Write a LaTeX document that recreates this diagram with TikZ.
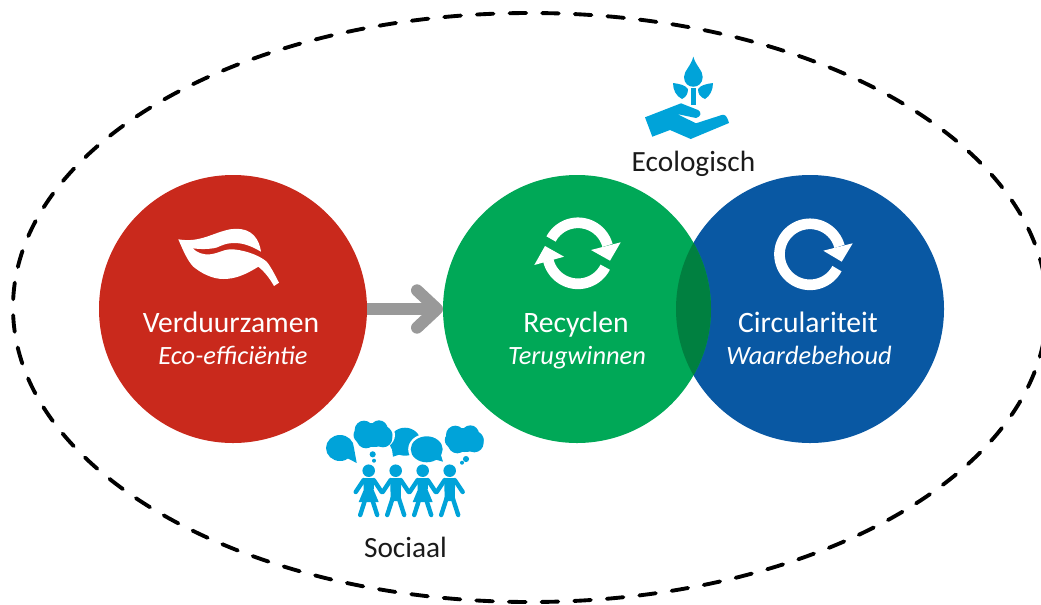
\documentclass[tikz,border=0pt]{standalone}
\usepackage{fontspec}
\setmainfont{Carlito}
\usetikzlibrary{arrows.meta}
\definecolor{cred}{HTML}{C9291C}
\definecolor{cgreen}{HTML}{00A857}
\definecolor{cblue}{HTML}{0958A3}
\definecolor{cdark}{HTML}{008040}
\definecolor{ccyan}{HTML}{00A3D9}
\definecolor{cgray}{HTML}{999999}
\definecolor{ctext}{HTML}{1A1A1A}
\tikzset{
  disc/.style={circle,minimum size=201pt,inner sep=0pt,outer sep=0pt,fill=#1},
  title/.style={text=white,font=\fontsize{22.2}{26}\selectfont,inner sep=0pt,anchor=base},
  subtitle/.style={text=white,font=\fontsize{19.8}{24}\selectfont\itshape,inner sep=0pt,anchor=base},
  pillar/.style={text=ctext,font=\fontsize{22}{26}\selectfont,inner sep=0pt,anchor=base},
  icon/.style={fill=ccyan,draw=none},
  ring/.style={draw=white,line width=8pt},
  limb/.style={draw=ccyan,line width=3.3pt,line cap=round},
}
\begin{document}
\begin{tikzpicture}[x=0.75pt,y=-0.75pt]
\useasboundingbox (0,0) rectangle (1041,604);
\draw[black,line width=2.9pt,line cap=round,dash pattern=on 12.5pt off 12pt] (530,307.5) ellipse [x radius=517pt*0.75,y radius=294.5pt*0.75];
\node[disc=cblue] (blue) at (810,309) {};
\node[disc=cgreen] (green) at (577,309) {};
\node[disc=cred] (red) at (233,309) {};
\begin{scope}
  \clip (577,309) circle [radius=100.5pt];
  \fill[cdark] (810,309) circle [radius=100.5pt];
\end{scope}
\draw[cgray,line width=9pt,-{Straight Barb[length=15pt,width=28pt,round]}] (red.east |- 0,309) -- (green.west);
% leaf
\fill[white] (178.3,239.3) .. controls (200,243) and (212,233) .. (230,229.3) .. controls (245,227) and (258,232) .. (261,251.7)
  .. controls (250,245) and (240,242) .. (230,243.3) .. controls (222,244) and (218,248) .. (213.3,248.3) .. controls (205,249.5) and (198,249) .. (192.7,248.3)
  .. controls (197,253) and (204,255) .. (210,254.3) .. controls (218,253.5) and (222,250) .. (230,249.3) .. controls (240,249) and (258,254) .. (266.7,261.7)
  .. controls (271,267) and (275,275) .. (279,282.7) -- (274,286) .. controls (270,279) and (265,272) .. (258.3,266.7)
  .. controls (245,275) and (235,279) .. (223.3,279) .. controls (212,279) and (201,273) .. (193.3,266.7) .. controls (187,260) and (183,250) .. (178.3,239.3) -- cycle;
% recycle
\draw[ring] plot[domain=152:15,samples=40] ({578+30.5*cos(\x)},{253.3-30.5*sin(\x)});
\fill[white] (620.7,242.3) -- (610,260.7) -- (591,250) -- cycle;
\draw[ring] plot[domain=-27:-166,samples=40] ({578+30.5*cos(\x)},{253.3-30.5*sin(\x)});
\fill[white] (545,246) -- (564,256.7) -- (534.3,265) -- cycle;
% circular
\draw[ring] plot[domain=-28:-345,samples=60] ({810+30.5*cos(\x)},{254.3-30.5*sin(\x)});
\fill[white] (852.7,243.3) -- (841.7,261.7) -- (823.3,250.7) -- cycle;
% labels
\node[title] (t1) at (231,332) {Verduurzamen};
\node[subtitle] (s1) at (233,364) {Eco-efficiëntie};
\node[title] (t2) at (576,332) {Recyclen};
\node[subtitle] (s2) at (577,364) {Terugwinnen};
\node[title] (t3) at (808,332) {Circulariteit};
\node[subtitle] (s3) at (809,364) {Waardebehoud};
\node[pillar] (eco) at (693.5,171) {Ecologisch};
\node[pillar] (soc) at (405.5,557) {Sociaal};
% plant icon
\fill[icon] (693.3,56.7) .. controls (696,66) and (703,71) .. (702.7,77) .. controls (702.5,90) and (684,90) .. (684,77) .. controls (684,71) and (691,66) .. (693.3,56.7) -- cycle;
\fill[icon] (673,83) .. controls (680,84) and (685,85) .. (688,89) .. controls (688,94) and (686,97) .. (682,99) .. controls (676,96) and (673,90) .. (673,83) -- cycle;
\fill[icon] (713,83) .. controls (706,84) and (701,85) .. (698,89) .. controls (698,94) and (700,97) .. (705,99) .. controls (710,96) and (713,90) .. (713,83) -- cycle;
\fill[icon] (691,88) rectangle (696,105);
\fill[icon] (645,117.3) -- (681,103.3) -- (698,110) .. controls (702,112) and (701,117) .. (696,118) -- (677,114) -- (696,123.3) -- (721.7,115) .. controls (725,114) and (727,116) .. (729,123) -- (690.7,139) -- (670,130) -- (652.3,136.7) -- cycle;
% social icon
\fill[icon] (340,448) ellipse [x radius=14*0.75pt,y radius=13*0.75pt];
\fill[icon] (343,456) -- (356.7,463) -- (354,448) -- cycle;
\fill[icon] (405,441.7) ellipse [x radius=15.5*0.75pt,y radius=14*0.75pt];
\fill[icon] (391,442) -- (393,456.7) -- (407,452) -- cycle;
\foreach \cx/\cy in {373/435,464.3/440}{
  \fill[white] (\cx,\cy) ellipse [x radius=22*0.75pt,y radius=16*0.75pt];
  \fill[icon] (\cx,\cy) ellipse [x radius=19.5*0.75pt,y radius=12*0.75pt];
  \fill[icon] (\cx-9,\cy-5) circle [radius=7pt];
  \fill[icon] (\cx+6,\cy-6) circle [radius=6.5pt];
  \fill[icon] (\cx+10,\cy+3) circle [radius=7pt];
  \fill[icon] (\cx-7,\cy+4) circle [radius=7pt];
}
\fill[icon] (372.7,454.3) circle [radius=2.3pt];
\fill[icon] (374,460.7) circle [radius=1.5pt];
\fill[icon] (466,459) circle [radius=2.3pt];
\fill[icon] (462,462.7) circle [radius=1.5pt];
\fill[white] (426.7,449.3) ellipse [x radius=18.5*0.75pt,y radius=15.5*0.75pt];
\fill[icon] (426.7,449.3) ellipse [x radius=16*0.75pt,y radius=13*0.75pt];
\fill[icon] (430,458) -- (443,461.7) -- (439,449) -- cycle;
\foreach \c/\skirt in {368.7/1,395.7/0,422.7/1,449.7/0}{
  \fill[icon] (\c,470.7) circle [radius=4.7pt];
  \draw[limb] (\c-5,480) -- (\c-13,492);
  \draw[limb] (\c+5,480) -- (\c+13,492);
  \draw[limb] (\c-3,498) -- (\c-8.5,515);
  \draw[limb] (\c+3,498) -- (\c+8.5,515);
  \ifnum\skirt=1
    \fill[icon] (\c-5.5,478) -- (\c+5.5,478) -- (\c+5,490) -- (\c+10,502) -- (\c-10,502) -- (\c-5,490) -- cycle;
  \else
    \fill[icon] (\c-5.5,478) -- (\c+5.5,478) -- (\c+5,501) -- (\c-5,501) -- cycle;
  \fi
}
\end{tikzpicture}
\end{document}
